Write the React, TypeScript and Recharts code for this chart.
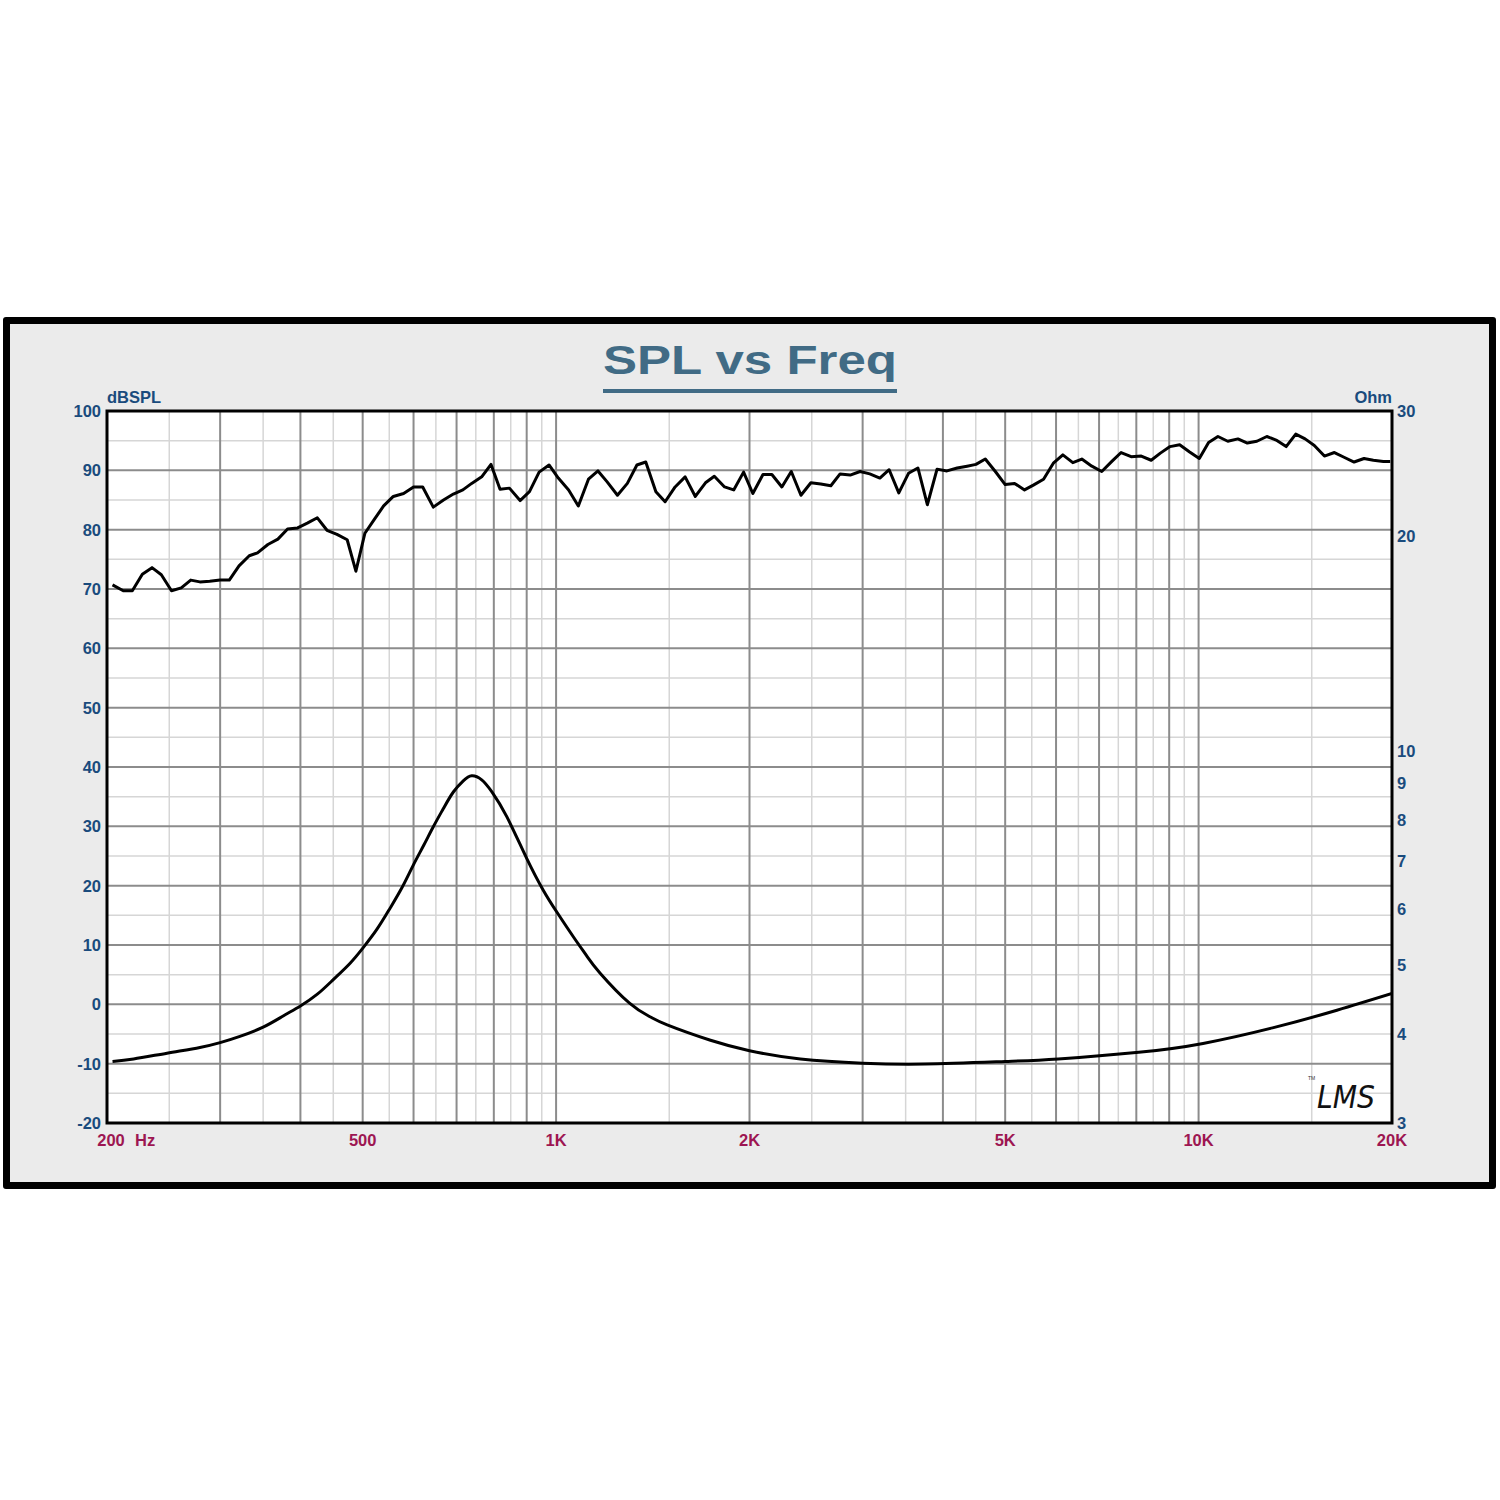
import {
  CartesianGrid,
  Line,
  LineChart,
  ReferenceArea,
  XAxis,
  YAxis,
} from "recharts";

// SPL response (Hz / dB)
const splFreq = [
  204, 212, 219, 227, 235, 243, 252, 261, 270, 279,
  289, 300, 310, 321, 333, 343, 356, 369, 382, 396,
  410, 425, 440, 456, 473, 488, 504, 521, 539, 558,
  579, 600, 620, 644, 668, 692, 716, 739, 766, 792,
  818, 846, 879, 909, 941, 975, 1008, 1046, 1083, 1123,
  1162, 1200, 1246, 1291, 1336, 1379, 1430, 1478, 1532, 1588,
  1647, 1708, 1763, 1829, 1890, 1958, 2024, 2099, 2167, 2246,
  2323, 2405, 2492, 2582, 2677, 2767, 2869, 2973, 3078, 3191,
  3299, 3415, 3536, 3657, 3783, 3917, 4058, 4210, 4362, 4503,
  4656, 4827, 5000, 5171, 5359, 5531, 5737, 5942, 6148, 6372,
  6580, 6821, 7068, 7328, 7575, 7853, 8143, 8438, 8720, 9027,
  9344, 9684, 10026, 10365, 10718, 11103, 11514, 11909, 12323, 12771,
  13203, 13686, 14166, 14648, 15140, 15698, 16271, 16841, 17459, 18093,
  18709, 19392, 19870,
];

const splDb = [
  70.7, 69.7, 69.7, 72.5, 73.6, 72.4, 69.7, 70.2, 71.5, 71.2,
  71.3, 71.5, 71.5, 73.9, 75.6, 76.1, 77.5, 78.4, 80.1, 80.3,
  81.1, 82.0, 79.9, 79.2, 78.3, 73.0, 79.4, 81.7, 84.0, 85.6,
  86.1, 87.2, 87.2, 83.8, 85.0, 86.0, 86.7, 87.8, 88.9, 91.0,
  86.8, 87.0, 84.9, 86.4, 89.7, 90.9, 88.7, 86.7, 84.0, 88.5,
  89.9, 88.1, 85.8, 87.8, 90.9, 91.4, 86.4, 84.7, 87.2, 88.9,
  85.6, 87.9, 89.0, 87.2, 86.7, 89.7, 86.1, 89.3, 89.3, 87.2,
  89.8, 85.8, 87.9, 87.7, 87.4, 89.4, 89.2, 89.8, 89.4, 88.7,
  90.1, 86.2, 89.5, 90.4, 84.2, 90.2, 89.9, 90.4, 90.7, 91.0,
  91.9, 89.8, 87.6, 87.8, 86.7, 87.5, 88.5, 91.2, 92.6, 91.3,
  91.9, 90.7, 89.8, 91.5, 93.0, 92.3, 92.4, 91.7, 92.9, 94.0,
  94.3, 93.1, 92.0, 94.7, 95.7, 94.9, 95.3, 94.6, 94.9, 95.7,
  95.1, 94.0, 96.1, 95.3, 94.2, 92.4, 93.0, 92.2, 91.4, 92.0,
  91.7, 91.5, 91.5,
];

// impedance curve (Hz / Ohm)
const impFreq = [
  204, 220, 248, 279, 300, 322, 350, 376, 400, 425,
  450, 478, 501, 526, 551, 576, 600, 622, 644, 668,
  692, 717, 739, 766, 794, 838, 900, 955, 1002, 1065,
  1116, 1171, 1301, 1400, 1489, 1739, 2000, 2400, 3000, 3751,
  5000, 6047, 8070, 10162, 13034, 16418, 20000,
];

const impOhm = [
  3.66, 3.69, 3.76, 3.83, 3.89, 3.97, 4.09, 4.24, 4.38, 4.55,
  4.77, 5.03, 5.29, 5.61, 6.0, 6.43, 6.92, 7.36, 7.82, 8.3,
  8.75, 9.07, 9.22, 9.1, 8.76, 8.08, 7.06, 6.37, 5.94, 5.47,
  5.15, 4.87, 4.42, 4.23, 4.12, 3.92, 3.79, 3.69, 3.64, 3.63,
  3.66, 3.69, 3.77, 3.88, 4.08, 4.32, 4.56,
];

const freqTicks = [200, 500, 1000, 2000, 5000, 10000, 20000];
const freqTickLabels = ["200", "500", "1K", "2K", "5K", "10K", "20K"];
const dbTicks = [-20, -10, 0, 10, 20, 30, 40, 50, 60, 70, 80, 90, 100];
const ohmTicks = [3, 4, 5, 6, 7, 8, 9, 10, 20, 30];

const majorFreqLines = [
  300, 400, 500, 600, 700, 800, 900, 1000,
  2000, 3000, 4000, 5000, 6000, 7000, 8000, 9000, 10000,
];
const minorFreqLines = [
  250, 350, 450, 550, 650, 750, 850, 950,
  1500, 2500, 3500, 4500, 5500, 6500, 7500, 8500, 9500, 15000,
];
const minorDbLines = [-15, -5, 5, 15, 25, 35, 45, 55, 65, 75, 85, 95];

const FONT = '"Liberation Sans", Arial, Helvetica, sans-serif';
const BLUE = "#1a4b7d";
const RED = "#9d1652";
const TITLE = "#416b85";

const splData = splFreq.map((f, i) => ({ f, db: splDb[i] }));
const impData = impFreq.map((f, i) => ({ f, ohm: impOhm[i] }));

function FreqTick({ x, y, payload }: any) {
  const idx = freqTicks.indexOf(payload.value);
  const label = freqTickLabels[idx] ?? "";
  if (payload.value === 200) {
    return (
      <g fontFamily={FONT} fontWeight="bold" fontSize={16.5} fill={RED}>
        <text x={x + 4} y={y + 22.5} textAnchor="middle">{label}</text>
        <text x={x + 28} y={y + 22.5} textAnchor="start">Hz</text>
      </g>
    );
  }
  return (
    <text
      x={x}
      y={y + 22.5}
      textAnchor="middle"
      fontFamily={FONT}
      fontWeight="bold"
      fontSize={16.5}
      fill={RED}
    >
      {label}
    </text>
  );
}

function SideTick({ x, y, payload, anchor }: any) {
  return (
    <text
      x={x}
      y={y}
      dy="0.36em"
      textAnchor={anchor}
      fontFamily={FONT}
      fontWeight="bold"
      fontSize={16.5}
      fill={BLUE}
    >
      {payload.value}
    </text>
  );
}

export default function App() {
  return (
    <div
      style={{
        position: "absolute",
        left: 0,
        top: 0,
        width: 1500,
        height: 1500,
        background: "#fff",
      }}
    >
      <div
        style={{
          position: "absolute",
          left: 3,
          top: 317,
          width: 1493,
          height: 872,
          boxSizing: "border-box",
          border: "7px solid #000",
          borderRadius: 3,
          background: "#ebebeb",
        }}
      />

      <div style={{ position: "absolute", left: 0, top: 0 }}>
        <LineChart
          width={1500}
          height={1500}
          margin={{ top: 411, right: 48, bottom: 347, left: 47 }}
        >
          <CartesianGrid
            xAxisId="freq"
            yAxisId="spl"
            fill="#fff"
            stroke="#d6d6d6"
            strokeWidth={1.5}
            verticalValues={minorFreqLines}
            horizontalValues={minorDbLines}
          />
          <CartesianGrid
            xAxisId="freq"
            yAxisId="spl"
            stroke="#8c8c8c"
            strokeWidth={2}
            verticalValues={majorFreqLines}
            horizontalValues={dbTicks}
          />

          <XAxis
            xAxisId="freq"
            dataKey="f"
            type="number"
            scale="log"
            domain={[200, 20000]}
            allowDataOverflow
            ticks={freqTicks}
            interval={0}
            axisLine={false}
            tickLine={false}
            tickSize={0}
            tickMargin={0}
            height={30}
            tick={<FreqTick />}
          />
          <YAxis
            yAxisId="spl"
            type="number"
            domain={[-20, 100]}
            allowDataOverflow
            ticks={dbTicks}
            interval={0}
            axisLine={false}
            tickLine={false}
            tickSize={0}
            tickMargin={6}
            width={60}
            tick={<SideTick anchor="end" />}
          />
          <YAxis
            yAxisId="ohm"
            orientation="right"
            type="number"
            scale="log"
            domain={[3, 30]}
            allowDataOverflow
            ticks={ohmTicks}
            interval={0}
            axisLine={false}
            tickLine={false}
            tickSize={0}
            tickMargin={5}
            width={60}
            tick={<SideTick anchor="start" />}
          />

          <Line
            xAxisId="freq"
            yAxisId="spl"
            data={splData}
            dataKey="db"
            type="linear"
            stroke="#000"
            strokeWidth={3}
            strokeLinejoin="round"
            dot={false}
            activeDot={false}
            isAnimationActive={false}
          />
          <Line
            xAxisId="freq"
            yAxisId="ohm"
            data={impData}
            dataKey="ohm"
            type="natural"
            stroke="#000"
            strokeWidth={3}
            dot={false}
            activeDot={false}
            isAnimationActive={false}
          />

          <ReferenceArea
            xAxisId="freq"
            yAxisId="spl"
            x1={200}
            x2={20000}
            y1={-20}
            y2={100}
            fill="none"
            fillOpacity={0}
            stroke="#000"
            strokeWidth={3}
            ifOverflow="visible"
          />
        </LineChart>
      </div>

      <svg
        width={1500}
        height={1500}
        style={{ position: "absolute", left: 0, top: 0, pointerEvents: "none" }}
      >
        <text
          x={750}
          y={374}
          textAnchor="middle"
          fontFamily={FONT}
          fontWeight="bold"
          fontSize={41}
          fill={TITLE}
          textLength={294}
          lengthAdjust="spacingAndGlyphs"
        >
          SPL vs Freq
        </text>
        <rect x={603} y={389} width={294} height={4} fill={TITLE} />

        <text
          x={107}
          y={403}
          fontFamily={FONT}
          fontWeight="bold"
          fontSize={16.5}
          fill={BLUE}
        >
          dBSPL
        </text>
        <text
          x={1392}
          y={403}
          textAnchor="end"
          fontFamily={FONT}
          fontWeight="bold"
          fontSize={16.5}
          fill={BLUE}
        >
          Ohm
        </text>

        <text
          x={1317}
          y={1108}
          fontFamily='"DejaVu Sans", sans-serif'
          fontStyle="italic"
          fontWeight={200}
          fontSize={32}
          fill="#111"
          textLength={58}
          lengthAdjust="spacingAndGlyphs"
        >
          LMS
        </text>
        <text x={1308} y={1080} fontFamily={FONT} fontSize={5} fill="#333">
          TM
        </text>
      </svg>
    </div>
  );
}
